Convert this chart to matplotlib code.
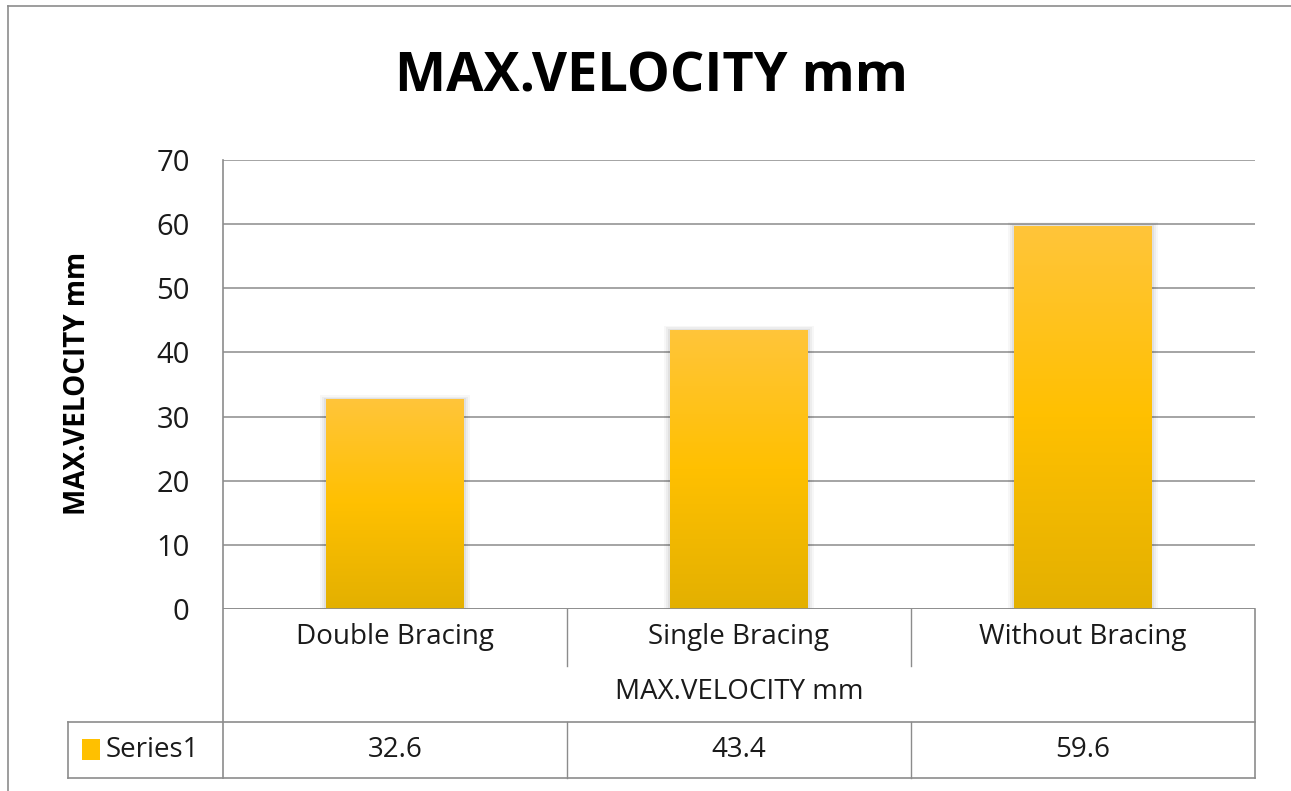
import numpy as np
import matplotlib
matplotlib.use("Agg")
from matplotlib import pyplot as plt
from matplotlib.colors import LinearSegmentedColormap
from matplotlib.lines import Line2D
from matplotlib.patches import Rectangle

categories = ["Double Bracing", "Single Bracing", "Without Bracing"]
values = [32.6, 43.4, 59.6]
value_labels = ["32.6", "43.4", "59.6"]
series_name = "Series1"
y_ticks = [0, 10, 20, 30, 40, 50, 60, 70]
title = "MAX.VELOCITY mm"

W, H = 1291, 791
plt.rcParams['font.family'] = ['Open Sans', 'DejaVu Sans']

fig = plt.figure(figsize=(W / 100, H / 100), dpi=100)
fig.patch.set_facecolor('white')


def fx(px):
    return px / W


def fy(py):
    return 1 - py / H


# Рамка диаграммы (видны только левая и верхняя стороны)
grey = '#8c8c8c'
fig.add_artist(Line2D([fx(8), fx(8)], [fy(6), 0], color=grey, lw=1.2))
fig.add_artist(Line2D([fx(8), 1], [fy(6), fy(6)], color=grey, lw=1.2))

# Область построения
left, right, top, bottom = 223, 1255, 160, 609
ax = fig.add_axes([fx(left), fy(bottom), fx(right - left), (bottom - top) / H])
ax.set_xlim(-0.5, len(categories) - 0.5)
ax.set_ylim(0, 70)
ax.set_yticks(y_ticks)
ax.set_yticklabels([str(t) for t in y_ticks], fontsize=21, color='#1a1a1a')
ax.tick_params(axis='y', length=0, pad=24)
ax.set_xticks([])
for s in ax.spines.values():
    s.set_visible(False)
for t in y_ticks:
    ax.axhline(t, color=grey, lw=1.1, zorder=1)

# Градиентная заливка столбцов
cmap = LinearSegmentedColormap.from_list('gold', ['#e3b000', '#ffc000', '#ffc53a'])
grad = np.linspace(0, 1, 256).reshape(-1, 1)
bw = 0.4
for i, v in enumerate(values):
    # мягкая тень
    for k, a in enumerate([0.05, 0.04, 0.03]):
        d = 0.006 * (k + 1)
        ax.add_patch(Rectangle((i - bw / 2 - d, 0), bw + 2 * d, v + 0.25 * (k + 1),
                               facecolor='#000000', alpha=a, lw=0, zorder=2))
    ax.imshow(grad, cmap=cmap, origin='lower', aspect='auto',
              extent=[i - bw / 2, i + bw / 2, 0, v], zorder=3)
ax.set_xlim(-0.5, len(categories) - 0.5)
ax.set_ylim(0, 70)

# Левая ось (продолжается вниз через таблицу)
fig.add_artist(Line2D([fx(left), fx(left)], [fy(top), fy(778)], color=grey, lw=1.2))
ax.axhline(0, color=grey, lw=1.2, zorder=4)

# Таблица данных
col_w = (right - left) / len(categories)
fig.add_artist(Line2D([fx(right), fx(right)], [fy(bottom), fy(778)], color=grey, lw=1.2))
for j in range(1, len(categories)):
    xx = fx(left + j * col_w)
    fig.add_artist(Line2D([xx, xx], [fy(bottom), fy(666)], color=grey, lw=1.0))
    fig.add_artist(Line2D([xx, xx], [fy(722), fy(778)], color=grey, lw=1.0))
fig.add_artist(Line2D([fx(68), fx(right)], [fy(722), fy(722)], color=grey, lw=1.2))
fig.add_artist(Line2D([fx(68), fx(right)], [fy(778), fy(778)], color=grey, lw=1.2))
fig.add_artist(Line2D([fx(68), fx(68)], [fy(722), fy(778)], color=grey, lw=1.2))

fs = 20
for j, c in enumerate(categories):
    cx = fx(left + (j + 0.5) * col_w)
    fig.text(cx, fy(637), c, fontsize=fs, ha='center', va='center', color='#1a1a1a')
    fig.text(cx, fy(750), value_labels[j], fontsize=fs, ha='center', va='center', color='#1a1a1a')
fig.text(fx((left + right) / 2), fy(692), title, fontsize=fs, ha='center', va='center', color='#1a1a1a')

# Ключ легенды
fig.add_artist(Rectangle((fx(82), fy(760)), fx(18), (760 - 739) / H,
                         facecolor='#ffc000', edgecolor='none'))
fig.text(fx(106), fy(750), series_name, fontsize=fs, ha='left', va='center', color='#1a1a1a')

# Заголовок и подпись оси
fig.text(fx(651), fy(78), title, fontsize=39, fontweight='bold', ha='center', va='center', color='black')
fig.text(fx(78), fy(383), title, fontsize=20, fontweight='bold', rotation=90,
         ha='center', va='center', color='black')

fig.savefig('out.png', dpi=100)
